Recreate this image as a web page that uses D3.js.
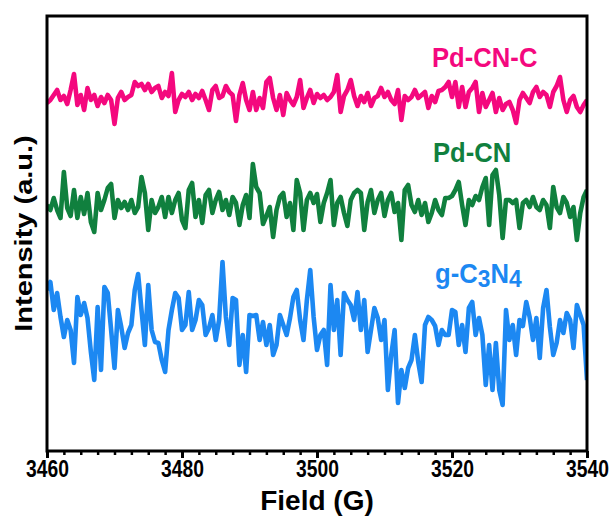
<!DOCTYPE html>
<html>
<head>
<meta charset="utf-8">
<script src="https://cdn.jsdelivr.net/npm/d3@7"></script>
<style>
  body { margin: 0; background: #fff; }
  text { font-family: Arial, "Liberation Sans", sans-serif; font-weight: bold; }
</style>
</head>
<body>
<svg id="chart" width="614" height="517"></svg>
<script>
// field sweep, 0.5 G per point
var fieldStart = 3460, fieldStep = 0.5, nPoints = 161;
var field = d3.range(nPoints).map(i => fieldStart + i * fieldStep);

var xTicks = [3460, 3480, 3500, 3520, 3540];

var seriesNames = ["Pd-CN-C", "Pd-CN", "g-C3N4"];

// intensities (a.u.)
var pdcnc = [
  348,351,356,361,351,355,347,361,377,346,
  356,341,363,351,356,345,354,348,356,351,
  327,353,359,351,354,356,369,365,367,361,
  367,359,363,365,353,359,355,378,339,351,
  357,354,359,351,357,353,360,351,341,361,
  365,353,355,365,359,356,330,356,368,351,
  341,359,341,353,343,369,373,353,341,356,
  336,358,351,346,354,371,343,353,361,348,
  357,353,356,351,354,359,376,339,355,361,
  371,355,345,355,349,358,345,353,355,363,
  354,359,351,347,361,331,355,351,354,361,
  353,356,359,343,355,349,360,361,364,369,
  354,369,344,364,344,359,363,369,339,358,
  344,351,358,339,353,341,347,349,341,328,
  351,358,353,348,359,364,354,359,356,344,
  359,365,374,351,339,351,355,344,339,346,
  351
];

var pdcn = [
  246,241,253,241,233,279,243,235,261,233,
  254,237,258,229,219,258,241,251,263,267,
  233,251,243,249,241,251,238,244,274,258,
  221,251,238,244,254,234,254,238,251,258,
  231,223,261,268,234,251,228,256,261,238,
  251,259,241,251,236,254,248,226,246,256,
  233,287,264,258,227,235,244,214,241,254,
  258,234,248,221,271,258,221,251,258,248,
  257,229,248,258,271,226,248,254,238,225,
  251,258,261,258,221,249,261,238,251,258,
  235,251,258,239,248,211,261,266,246,239,
  251,236,248,229,238,251,241,236,253,253,
  255,261,269,246,226,251,246,255,251,264,
  273,226,276,281,256,213,251,251,248,251,
  223,248,251,244,254,244,241,251,246,223,
  264,244,238,254,248,234,244,211,238,254,
  261
];

var gcn = [
  161,169,141,158,134,114,131,121,88,154,
  136,148,133,99,71,144,81,164,158,121,
  83,141,124,103,118,126,161,177,141,106,
  166,121,109,108,91,79,121,141,158,153,
  121,126,159,121,131,151,146,116,123,136,
  111,131,189,134,106,153,151,86,116,79,
  136,135,136,111,129,106,126,96,106,136,
  126,116,133,154,161,131,111,151,181,134,
  101,116,121,86,166,121,151,96,158,151,
  146,131,159,121,151,99,121,143,133,111,
  131,61,96,121,48,81,63,83,91,116,
  89,69,126,134,131,125,106,121,116,116,
  141,139,106,126,99,143,149,116,133,116,
  66,106,61,108,61,46,141,111,126,96,
  131,125,149,134,111,133,93,143,161,124,
  96,108,131,118,138,131,103,146,136,126,
  71
];

var colors = ["#f4087e", "#10803e", "#1c88f2"];

var svg = d3.select("#chart"),
    margin = {top: 16, right: 27, bottom: 66, left: 47},
    width = +svg.attr("width") - margin.left - margin.right,
    height = +svg.attr("height") - margin.top - margin.bottom,
    g = svg.append("g").attr("transform", "translate(" + margin.left + "," + margin.top + ")");

var x = d3.scaleLinear().domain([3460, 3540]).range([0, width]);
var y = d3.scaleLinear().domain([0, 435]).range([height, 0]);

var line = d3.line()
    .x((d, i) => x(field[i]))
    .y(d => y(d));

svg.append("defs").append("clipPath").attr("id", "clip")
  .append("rect").attr("x", -1).attr("y", 0).attr("width", width + 2).attr("height", height);

var data = [pdcnc, pdcn, gcn];

g.append("g")
    .attr("clip-path", "url(#clip)")
  .selectAll("path")
  .data(data)
  .enter().append("path")
    .attr("fill", "none")
    .attr("stroke", (d, i) => colors[i])
    .attr("stroke-width", 4.6)
    .attr("stroke-linejoin", "round")
    .attr("d", line);

// minor ticks
g.append("g")
    .attr("transform", "translate(0," + height + ")")
    .call(d3.axisBottom(x).tickValues(d3.range(3460, 3541, 2.5)).tickSize(4).tickSizeOuter(0).tickFormat(""))
    .call(a => a.select(".domain").remove())
    .selectAll("line").attr("stroke", "#000").attr("stroke-width", 2.5);

// major ticks
var xAxis = g.append("g")
    .attr("transform", "translate(0," + height + ")")
    .call(d3.axisBottom(x).tickValues(xTicks).tickSize(7).tickSizeOuter(0).tickFormat(d3.format("d")));
xAxis.select(".domain").remove();
xAxis.selectAll("line").attr("stroke", "#000").attr("stroke-width", 3);
xAxis.selectAll("text")
    .attr("fill", "#000")
    .attr("font-size", 23)
    .attr("font-family", "Arial, 'Liberation Sans', sans-serif")
    .attr("font-weight", "bold")
    .attr("y", 26).attr("dy", 0)
    .attr("transform", "scale(0.84,1)");

// frame
g.append("rect")
    .attr("width", width)
    .attr("height", height)
    .attr("fill", "none")
    .attr("stroke", "#000")
    .attr("stroke-width", 3);

// axis titles
svg.append("text")
    .attr("transform", "translate(" + (margin.left + width / 2) + ",510)")
    .attr("text-anchor", "middle")
    .attr("font-size", 28)
    .text("Field (G)");

svg.append("text")
    .attr("transform", "translate(32," + (margin.top + height / 2) + ") scale(0.84,1) rotate(-90)")
    .attr("text-anchor", "middle")
    .attr("font-size", 29)
    .text("Intensity (a.u.)");

// series labels
var labelPos = [[432, 67], [433, 162], [435, 283]];

svg.append("text")
    .attr("transform", "translate(" + labelPos[0][0] + "," + labelPos[0][1] + ") scale(0.95,1)")
    .attr("font-size", 27).attr("fill", colors[0])
    .text(seriesNames[0]);

svg.append("text")
    .attr("transform", "translate(" + labelPos[1][0] + "," + labelPos[1][1] + ") scale(0.95,1)")
    .attr("font-size", 27).attr("fill", colors[1])
    .text(seriesNames[1]);

var gl = svg.append("text")
    .attr("transform", "translate(" + labelPos[2][0] + "," + labelPos[2][1] + ") scale(0.95,1)")
    .attr("font-size", 27).attr("fill", colors[2]);
gl.append("tspan").text("g-C");
gl.append("tspan").attr("dy", 4).attr("font-size", 24).text("3");
gl.append("tspan").attr("dy", -4).text("N");
gl.append("tspan").attr("dy", 4).attr("font-size", 24).text("4");
</script>
</body>
</html>
